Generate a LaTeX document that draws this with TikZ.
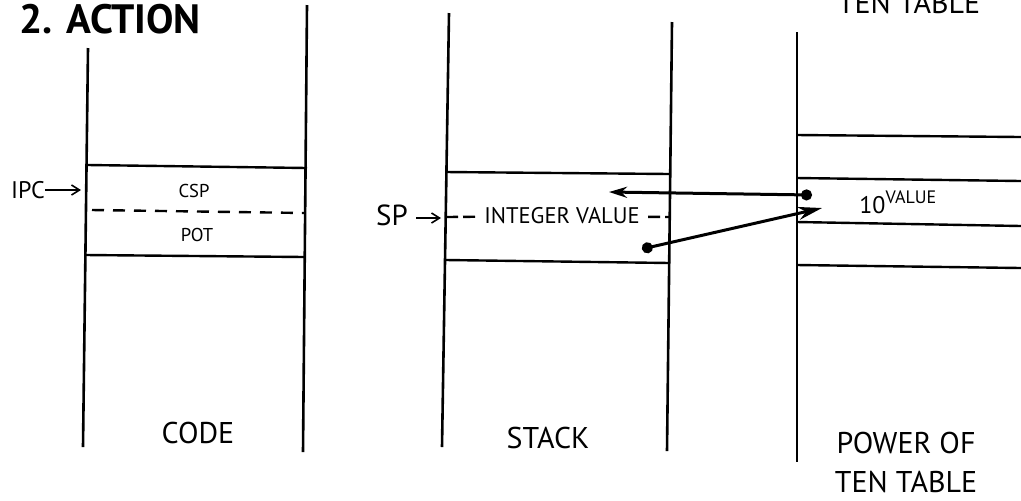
\documentclass[tikz,border=0pt]{standalone}
\usepackage{fontspec}
\setmainfont{PT Sans}
\usetikzlibrary{arrows.meta}

\begin{document}
\begin{tikzpicture}[
  x=0.5pt, y=-0.5pt,
  wall/.style={line width=1.3pt},
  rowline/.style={line width=1.2pt},
  collabel/.style={font=\fontsize{15}{19.5}\selectfont, align=center, inner sep=0pt},
  celltext/.style={font=\fontsize{9.3}{11}\selectfont, inner sep=0pt},
  ptr/.style={line width=0.8pt, -{Straight Barb[length=4pt,width=5pt]}},
  link/.style={line width=1.5pt, {Circle[length=5.5pt]}-{Stealth[length=9pt,width=5.5pt]}},
]
\clip (0,0) rectangle (1021,500);

%% Title and leftover caption from above
\node[font=\bfseries\fontsize{20.5}{24}\selectfont, anchor=base west, inner sep=0pt] (title) at (19,33) {2. ACTION};
\node[collabel, anchor=base] (tentop) at (909,13) {TEN TABLE};

%% Code column
\draw[wall] (88,48) -- (83,447);
\draw[wall] (307,5) -- (303,452);
\draw[rowline] (88,165) -- (307,168);
\draw[rowline, dash pattern=on 6pt off 4.5pt] (92,210) -- (305,213);
\draw[rowline] (86,255) -- (305,257);
\node[celltext] (csp) at (194,191) {CSP};
\node[celltext] (pot) at (197,235) {POT};
\node[font=\fontsize{12}{14}\selectfont, inner sep=0pt] (ipc) at (28,190) {IPC};
\coordinate (ipctip) at (81,190);
\draw[ptr] (ipc) -- (ipctip);
\node[collabel] (code) at (198,433) {CODE};

%% Stack column
\draw[wall] (449,13) -- (442,447);
\draw[wall] (672,22) -- (667,451);
\draw[rowline] (446,172) -- (670,174);
\draw[rowline] (446,260) -- (670,263);
\node[font=\fontsize{11.3}{13}\selectfont, inner ysep=0pt, inner xsep=4pt] (intval) at (562,216) {INTEGER VALUE};
\coordinate (sl) at (446,217);
\coordinate (sr) at (670,217);
\draw[rowline, dash pattern=on 6pt off 2.5pt] (sl) -- (intval);
\draw[rowline, dash pattern=on 6pt off 2.5pt] (intval) -- (sr);
\node[font=\fontsize{14.5}{16}\selectfont, inner sep=0pt] (sp) at (392,215) {SP};
\coordinate (sptip) at (441,218);
\draw[ptr] (sp.east) ++(8,3) -- (sptip);
\node[collabel] (stack) at (548,438) {STACK};

%% Power of ten table
\draw[wall] (797,32) -- (797,462);
\foreach \ya/\yb in {135/137, 178/181, 222/226, 265/268} {
  \draw[rowline] (797,\ya) -- (1021,\yb);
}
\node[font=\fontsize{12}{14}\selectfont, anchor=base west, inner sep=0pt] (tenval) at (859,213)
  {10\raisebox{5pt}{\fontsize{9}{10}\selectfont VALUE}};
\node[collabel] (power) at (906,462) {POWER OF\\TEN TABLE};

%% Links between stack and table
\coordinate (dota) at (812,195);
\coordinate (tipa) at (609,192);
\coordinate (dotb) at (642,249);
\coordinate (tipb) at (822,208);
\draw[link] (dota) -- (tipa);
\draw[link, {Circle[length=5.5pt]}-{Stealth[length=12pt,width=6.5pt]}] (dotb) -- (tipb);
\end{tikzpicture}
\end{document}
